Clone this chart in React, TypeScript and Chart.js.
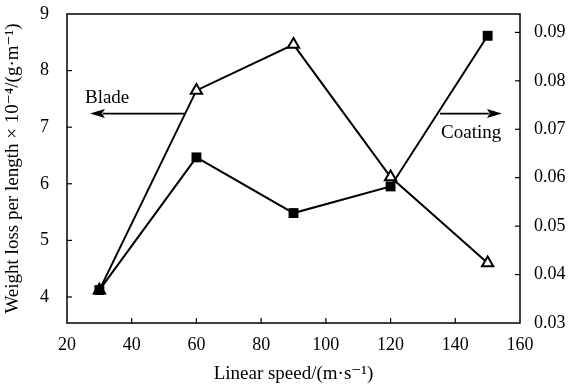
import React, { useEffect, useRef } from 'react';
import { Chart, registerables } from 'chart.js';
Chart.register(...registerables);

const speeds = [30, 60, 90, 120, 150];
const bladeLoss = [4.12, 7.65, 8.46, 6.12, 4.6];
const coatingLoss = [0.0368, 0.0642, 0.0527, 0.0582, 0.0893];
const xTicks = [20, 40, 60, 80, 100, 120, 140, 160];
const leftTicks = [4, 5, 6, 7, 8, 9];
const rightTicks = [0.03, 0.04, 0.05, 0.06, 0.07, 0.08, 0.09];

const FONT = '"Liberation Serif", "DejaVu Serif", serif';

const framePlugin = {
  id: 'frame',
  afterDraw(chart: any) {
    const { ctx, chartArea: a, scales } = chart;
    ctx.save();
    ctx.strokeStyle = '#000';
    ctx.lineWidth = 1.5;
    ctx.strokeRect(a.left, a.top, a.right - a.left, a.bottom - a.top);
    ctx.lineWidth = 1.2;
    const tl = 5;
    leftTicks.forEach((v) => {
      const y = scales.y.getPixelForValue(v);
      if (y <= a.top + 1 || y >= a.bottom - 1) return;
      ctx.beginPath(); ctx.moveTo(a.left, y); ctx.lineTo(a.left + tl, y); ctx.stroke();
    });
    rightTicks.forEach((v) => {
      const y = scales.y2.getPixelForValue(v);
      if (y <= a.top + 1 || y >= a.bottom - 1) return;
      ctx.beginPath(); ctx.moveTo(a.right, y); ctx.lineTo(a.right - tl, y); ctx.stroke();
    });
    xTicks.forEach((v) => {
      const x = scales.x.getPixelForValue(v);
      if (x <= a.left + 1 || x >= a.right - 1) return;
      ctx.beginPath(); ctx.moveTo(x, a.bottom); ctx.lineTo(x, a.bottom - tl); ctx.stroke();
    });

    const arrow = (x1: number, x2: number, y: number) => {
      ctx.lineWidth = 1.8;
      const dir = Math.sign(x2 - x1);
      const headLen = 15;
      ctx.beginPath();
      ctx.moveTo(x1, y);
      ctx.lineTo(x2 - dir * headLen + dir * 2, y);
      ctx.stroke();
      ctx.beginPath();
      ctx.moveTo(x2, y);
      ctx.lineTo(x2 - dir * headLen, y - 4.5);
      ctx.lineTo(x2 - dir * (headLen - 3), y);
      ctx.lineTo(x2 - dir * headLen, y + 4.5);
      ctx.closePath();
      ctx.fillStyle = '#000';
      ctx.fill();
    };
    const sx = scales.x, sy = scales.y;
    arrow(sx.getPixelForValue(56.5), sx.getPixelForValue(27.1), sy.getPixelForValue(7.24));
    arrow(sx.getPixelForValue(135.3), sx.getPixelForValue(154.4), sy.getPixelForValue(7.24));
    ctx.fillStyle = '#000';
    ctx.font = `19px ${FONT}`;
    ctx.textAlign = 'center';
    ctx.textBaseline = 'middle';
    ctx.fillText('Blade', sx.getPixelForValue(32.4), sy.getPixelForValue(7.52));
    ctx.fillText('Coating', sx.getPixelForValue(144.9), sy.getPixelForValue(6.89));
    ctx.restore();
  },
};

const fixV = (w: number) => (s: any) => {
  s.width = w;
  s.paddingTop = 14;
  s.paddingBottom = 0;
};

export default function App() {
  const ref = useRef<HTMLCanvasElement>(null);
  useEffect(() => {
    if (!ref.current) return;
    const chart = new Chart(ref.current, {
      type: 'line',
      data: {
        datasets: [
          {
            label: 'Coating',
            data: speeds.map((s, i) => ({ x: s, y: coatingLoss[i] })),
            yAxisID: 'y2',
            borderColor: '#000',
            borderWidth: 2,
            pointStyle: 'rect',
            pointRadius: 7,
            pointBackgroundColor: '#000',
            pointBorderColor: '#000',
            pointBorderWidth: 0,
            fill: false,
          },
          {
            label: 'Blade',
            data: speeds.map((s, i) => ({ x: s, y: bladeLoss[i] })),
            yAxisID: 'y',
            borderColor: '#000',
            borderWidth: 2,
            pointStyle: 'triangle',
            pointRadius: 6.5,
            pointBackgroundColor: '#fff',
            pointBorderColor: '#000',
            pointBorderWidth: 2,
            fill: false,
          },
        ],
      },
      options: {
        animation: false,
        responsive: true,
        maintainAspectRatio: false,
        layout: { padding: { top: 14, left: 0, right: 0, bottom: 0 } },
        plugins: { legend: { display: false }, tooltip: { enabled: false } },
        scales: {
          x: {
            type: 'linear',
            min: 20,
            max: 160,
            afterBuildTicks: (s: any) => { s.ticks = xTicks.map((v) => ({ value: v })); },
            afterFit: (s: any) => { s.height = 65; s.paddingLeft = 0; s.paddingRight = 0; },
            grid: { display: false, drawTicks: false },
            border: { display: false },
            ticks: { color: '#000', font: { family: FONT, size: 18 }, padding: 11, autoSkip: false, maxRotation: 0 },
            title: { display: true, text: 'Linear speed/(m·s⁻¹)', color: '#000', font: { family: FONT, size: 19 }, padding: { top: 0, bottom: 3 } },
          },
          y: {
            type: 'linear',
            position: 'left',
            min: 3.54,
            max: 9,
            afterBuildTicks: (s: any) => { s.ticks = leftTicks.map((v) => ({ value: v })); },
            afterFit: fixV(67),
            grid: { display: false, drawTicks: false },
            border: { display: false },
            ticks: { color: '#000', font: { family: FONT, size: 18 }, padding: 18 },
            title: { display: true, text: 'Weight loss per length × 10⁻⁴/(g·m⁻¹)', color: '#000', font: { family: FONT, size: 19 }, padding: { top: 2, bottom: 0 } },
          },
          y2: {
            type: 'linear',
            position: 'right',
            min: 0.03,
            max: 0.0938,
            afterBuildTicks: (s: any) => { s.ticks = rightTicks.map((v) => ({ value: v })); },
            afterFit: fixV(54),
            grid: { display: false, drawTicks: false },
            border: { display: false },
            ticks: { color: '#000', font: { family: FONT, size: 18 }, padding: 14, callback: (v: any) => Number(v).toFixed(2) },
          },
        },
      },
      plugins: [framePlugin],
    });
    return () => chart.destroy();
  }, []);
  return (
    <div style={{ position: 'fixed', left: 0, top: 0, width: 574, height: 388, background: '#fff' }}>
      <canvas ref={ref} />
    </div>
  );
}
